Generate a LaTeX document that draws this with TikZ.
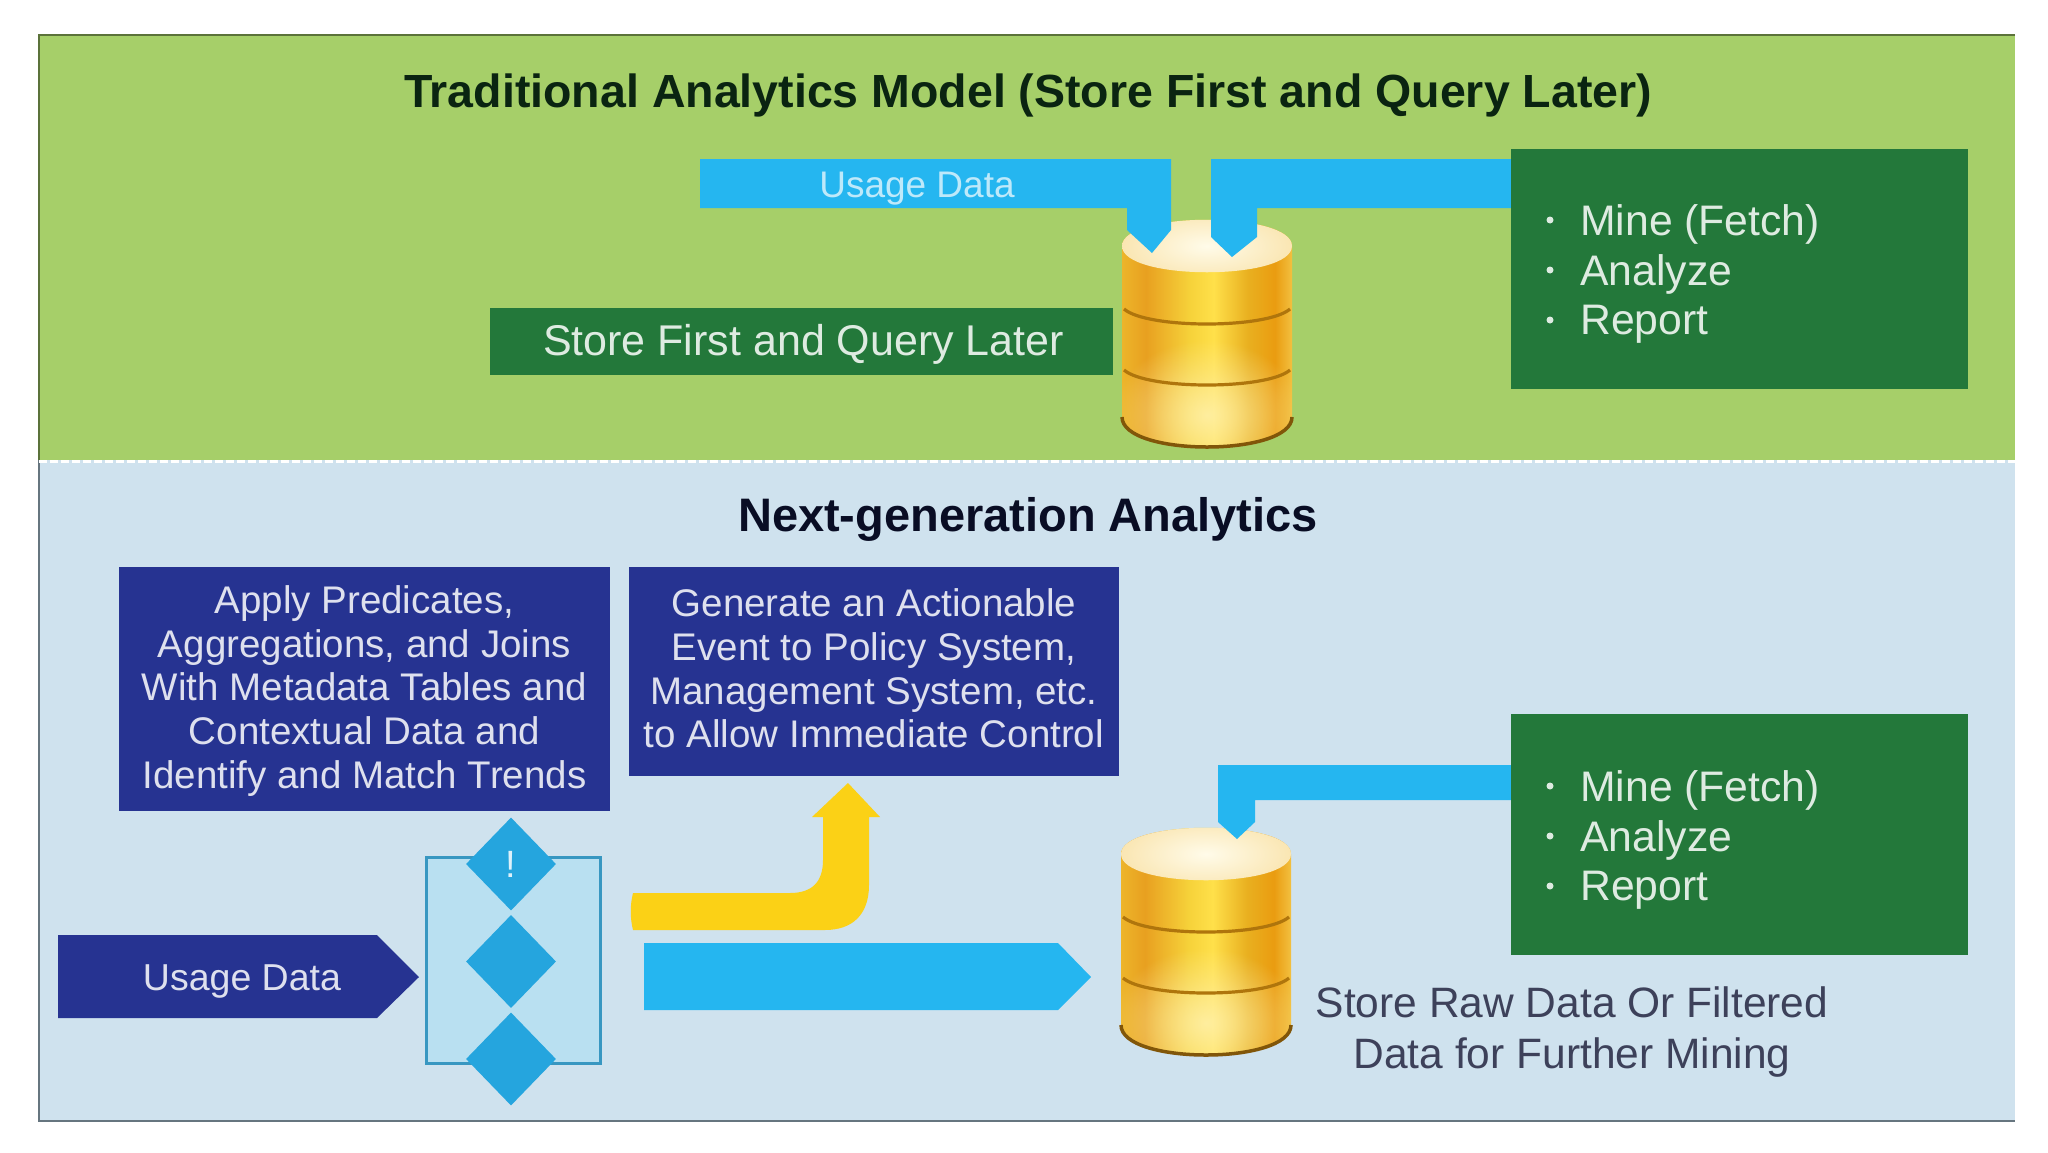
\documentclass[tikz,border=0pt]{standalone}
\usepackage{fontspec}
\setmainfont{Liberation Sans}
\usetikzlibrary{calc,shapes.geometric,fadings}
\definecolor{panelgreen}{HTML}{A6CF69}
\definecolor{panelblue}{HTML}{CFE2EE}
\definecolor{boxgreen}{HTML}{23783A}
\definecolor{boxnavy}{HTML}{263391}
\definecolor{flowcyan}{HTML}{25B6F0}
\definecolor{gatecyan}{HTML}{25A5DE}
\definecolor{gatefill}{HTML}{B9E0F1}
\definecolor{flowyellow}{HTML}{FBD116}
\definecolor{framegray}{HTML}{66757F}
\definecolor{goldA}{HTML}{EDB52A}
\definecolor{goldB}{HTML}{E8A020}
\definecolor{goldC}{HTML}{F6D23A}
\definecolor{goldD}{HTML}{FFE04A}
\definecolor{goldE}{HTML}{E9B020}
\definecolor{goldF}{HTML}{EA9C10}
\definecolor{goldG}{HTML}{F2C040}
\pgfdeclarehorizontalshading{dbgold}{100bp}{color(0bp)=(goldA); color(25bp)=(goldA); color(32bp)=(goldB); color(45bp)=(goldC); color(52bp)=(goldD); color(62bp)=(goldE); color(70bp)=(goldF); color(75bp)=(goldG); color(100bp)=(goldG)}
\tikzfading[name=dbglow,inner color=transparent!15,outer color=transparent!100]
\tikzset{
  greenbox/.style={fill=boxgreen,inner sep=0pt},
  navybox/.style={fill=boxnavy,inner sep=0pt},
  navytext/.style={text=white!85!boxnavy,align=center,inner sep=0pt,font=\fontsize{38.5}{43.8}\selectfont},
  gate/.style={diamond,fill=gatecyan,inner sep=0pt,minimum width=90pt,minimum height=93pt},
  listitem/.style={text=white!85!boxgreen,anchor=west,inner sep=0pt,font=\fontsize{42.7}{50}\selectfont},
  listdot/.style={circle,fill=white!85!boxgreen,inner sep=0pt,minimum size=7pt},
  dbcyl/.pic={
    \shade[shading=dbgold] (-85,26) -- (-85,197) .. controls (-85,237) and (85,237) .. (85,197) -- (85,26) .. controls (85,-9) and (-85,-9) .. (-85,26) -- cycle;
    \begin{scope}
      \clip (-85,26) -- (-85,197) .. controls (-85,237) and (85,237) .. (85,197) -- (85,26) -- cycle;
      \fill[white!55!goldD,path fading=dbglow] (0,195) ellipse [x radius=95pt,y radius=75pt];
    \end{scope}
    \shade[inner color=white!88!goldD,outer color=goldG!40!white] (-85,26) .. controls (-85,-9) and (85,-9) .. (85,26) .. controls (85,61) and (-85,61) .. (-85,26) -- cycle;
    \foreach \h in {89,150} { \draw[goldF!75!black,line width=3.2pt] (-83,\h) .. controls (-60,\h+20) and (60,\h+20) .. (83,\h); }
    \draw[goldF!55!black,line width=3.5pt] (-85,197) .. controls (-85,237) and (85,237) .. (85,197);
  }
}

\begin{document}
\begin{tikzpicture}[x=1pt,y=-1pt]
\useasboundingbox (0,0) rectangle (2048,1152);
\fill[white] (0,0) rectangle (2048,1152);
\fill[panelgreen] (39,35) rectangle (2015,460);
\fill[panelblue] (39,460) rectangle (2015,1121);
\draw[black!45!panelgreen,line width=2pt] (2015,35) -- (39,35) -- (39,460);
\draw[framegray,line width=2pt] (39,460) -- (39,1121) -- (2015,1121);
\draw[white,dash pattern=on 8pt off 3pt,line width=3pt] (39,461) -- (2015,461);
\node[font=\bfseries\fontsize{46.5}{50}\selectfont,text=black!70!boxgreen] (toptitle) at (1028,95) {Traditional Analytics Model (Store First and Query Later)};
\node[font=\bfseries\fontsize{47}{50}\selectfont,text=black!75!boxnavy] (lowtitle) at (1028,519) {Next-generation Analytics};
% gold drums
\pic at (1207,220) {dbcyl};
\pic at (1206,828) {dbcyl};
% green boxes and their lists
\node[greenbox,minimum width=457pt,minimum height=240pt] (topmine) at (1739.5,269) {};
\node[greenbox,minimum width=457pt,minimum height=241pt] (lowmine) at (1739.5,834.5) {};
\foreach \p/\o in {top/220,low/786} {
  \foreach \k/\d/\t in {a/0/Mine (Fetch),b/50/Analyze,c/100/Report} {
    \node[listdot] (\p dot\k) at (1550,\o+\d) {};
    \node[listitem] (\p item\k) at (1580,\o+\d+4) {\t};
  }
}
\node[greenbox,minimum width=623pt,minimum height=67pt] (storefirst) at (801.5,341.5) {};
\node[text=white!85!boxgreen,font=\fontsize{43}{50}\selectfont] (storetext) at ($(storefirst)+(2,3)$) {Store First and Query Later};
% flow shapes
\fill[flowcyan] (700,159) -- (1171,159) -- (1171,230) -- (1152,253) -- (1127,230) -- (1127,208) -- (700,208) -- cycle;
\node[text=white!70!flowcyan,font=\fontsize{37}{44}\selectfont] (topusage) at (917,189) {Usage Data};
\fill[flowcyan] (1211,159) -- (topmine.west |- 0,159) -- (topmine.west |- 0,208) -- (1257,208) -- (1257,237) -- (1232,257) -- (1211,237) -- cycle;
\fill[flowcyan] (1218,765) -- (lowmine.west |- 0,765) -- (lowmine.west |- 0,800) -- (1255,800) -- (1255,822) -- (1237,839) -- (1218,822) -- cycle;
% lower left part
\node[navybox,minimum width=491pt,minimum height=244pt] (joinbox) at (364.5,689) {};
\node[navytext] (jointext) at ($(joinbox)+(0,2)$) {Apply Predicates,\\Aggregations, and Joins\\With Metadata Tables and\\Contextual Data and\\Identify and Match Trends};
\node[navybox,minimum width=490pt,minimum height=209pt] (eventbox) at (874,671.5) {};
\node[navytext] (eventtext) at ($(eventbox)+(0,-3)$) {Generate an Actionable\\Event to Policy System,\\Management System, etc.\\to Allow Immediate Control};
\fill[boxnavy] (58,935) -- (377,935) -- (419,977) -- (377,1018) -- (58,1018) -- cycle;
\node[text=white!85!boxnavy,font=\fontsize{37.5}{44}\selectfont] (lowusage) at (242,981) {Usage Data};
\node[draw=gatecyan!70!framegray,fill=gatefill,line width=3pt,minimum width=174pt,minimum height=206pt,inner sep=0pt] (gatebox) at (513,960) {};
\foreach \n/\y/\t in {one/864/!,two/961.5/,three/1059/} {
  \node[gate,text=white!85!gatecyan,font=\fontsize{38}{44}\selectfont] (gate\n) at (511,\y) {\t};
}
\fill[flowyellow] (633,893) -- (790,893) .. controls (812,893) and (823,882) .. (823,860) -- (823,817) -- (812,817) -- (848,783) -- (880,817) -- (869,817) -- (869,885) .. controls (869,915) and (852,930) .. (825,930) -- (633,930) .. controls (630,918) and (630,905) .. (633,893) -- cycle;
\fill[flowcyan] (644,943) -- (1058,943) -- (1091,977) -- (1058,1010) -- (644,1010) -- cycle;
\node[text=black!55!boxnavy!60!gray,align=center,font=\fontsize{42.5}{51}\selectfont] (rawnote) at (1572,1032) {Store Raw Data Or Filtered\\Data for Further Mining};
\end{tikzpicture}
\end{document}
